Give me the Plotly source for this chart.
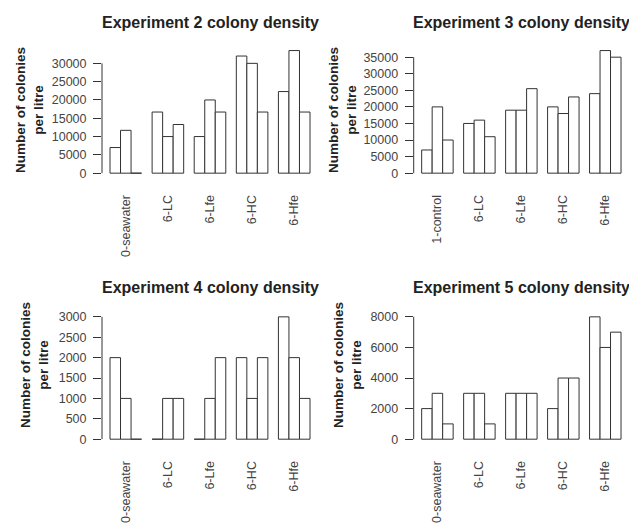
import plotly.graph_objects as go

# Treatment groups on the x axis
groups_seawater = ["0-seawater", "6-LC", "6-Lfe", "6-HC", "6-Hfe"]
groups_control = ["1-control", "6-LC", "6-Lfe", "6-HC", "6-Hfe"]

# Colony density (colonies per litre), one list per replicate
exp2_rep1 = [7000, 16700, 10000, 32000, 22300]
exp2_rep2 = [11700, 10000, 20000, 30000, 33500]
exp2_rep3 = [0, 13300, 16700, 16700, 16700]

exp3_rep1 = [7000, 15000, 19000, 20000, 24000]
exp3_rep2 = [20000, 16000, 19000, 18000, 37000]
exp3_rep3 = [10000, 11000, 25500, 23000, 35000]

exp4_rep1 = [2000, 0, 0, 2000, 3000]
exp4_rep2 = [1000, 1000, 1000, 1000, 2000]
exp4_rep3 = [0, 1000, 2000, 2000, 1000]

exp5_rep1 = [2000, 3000, 3000, 2000, 8000]
exp5_rep2 = [3000, 3000, 3000, 4000, 6000]
exp5_rep3 = [1000, 1000, 3000, 4000, 7000]

panel_titles = ["Experiment 2 colony density", "Experiment 3 colony density",
                "Experiment 4 colony density", "Experiment 5 colony density"]
tick_steps = [5000, 5000, 500, 2000]
tick_tops = [30000, 35000, 3000, 8000]

panels = [
    (groups_seawater, [exp2_rep1, exp2_rep2, exp2_rep3]),
    (groups_control, [exp3_rep1, exp3_rep2, exp3_rep3]),
    (groups_seawater, [exp4_rep1, exp4_rep2, exp4_rep3]),
    (groups_seawater, [exp5_rep1, exp5_rep2, exp5_rep3]),
]

W, H = 629, 523
FONT = "Liberation Sans, Arial, sans-serif"
TEXT = "#222222"
TICK = "#444444"
EDGE = "#333333"

# plot regions in pixels (left, right, top, bottom)
regions = [
    (102.0, 318.0, 44.5, 179.5),
    (413.7, 629.0, 44.5, 179.5),
    (102.0, 318.0, 316.0, 450.7),
    (413.7, 629.0, 316.0, 450.7),
]
# y-axis label centres (x, y) in pixels
ylab_pos = [(30, 110), (343, 110), (35, 370), (348, 370)]
title_y = [20.5, 20.5, 291.5, 291.5]

fig = go.Figure()
annotations = []
shapes = []

for i, ((cats, reps), (x0, x1, y0, y1)) in enumerate(zip(panels, regions)):
    n = i + 1
    xa = "x" if n == 1 else f"x{n}"
    ya = "y" if n == 1 else f"y{n}"
    for rep in reps:
        fig.add_trace(go.Bar(
            x=cats, y=rep, xaxis=xa, yaxis=ya,
            marker=dict(color="white", line=dict(color=EDGE, width=1)),
            showlegend=False, hoverinfo="x+y",
        ))
    ymax = max(max(r) for r in reps)
    xkey = "xaxis" if n == 1 else f"xaxis{n}"
    ykey = "yaxis" if n == 1 else f"yaxis{n}"
    fig.layout[xkey] = dict(
        domain=[x0 / W, x1 / W], anchor=ya, type="category",
        range=[-0.565, 4.565], showgrid=False, zeroline=False, showline=False,
        ticks="outside", ticklen=11, tickcolor="rgba(0,0,0,0)",
        tickangle=-90, tickfont=dict(family=FONT, size=12.5, color=TICK),
        fixedrange=True,
    )
    fig.layout[ykey] = dict(
        domain=[1 - y1 / H, 1 - y0 / H], anchor=xa,
        range=[-0.04 * ymax, 1.04 * ymax],
        tickmode="linear", tick0=0, dtick=tick_steps[i], tickformat="d",
        showgrid=False, zeroline=False, showline=False,
        ticks="outside", ticklen=8, tickcolor=EDGE, tickwidth=1,
        ticklabelstandoff=4,
        tickfont=dict(family=FONT, size=12.5, color=TICK),
        fixedrange=True,
    )
    # axis line spanning only the labelled ticks
    shapes.append(dict(
        type="line", xref=f"{xa} domain", yref=ya,
        x0=0, x1=0, y0=0, y1=tick_tops[i],
        line=dict(color=EDGE, width=1),
    ))
    annotations.append(dict(
        text=f"<b>{panel_titles[i]}</b>", xref="paper", yref="paper",
        x=(x0 + x1) / 2 / W, y=1 - title_y[i] / H,
        xanchor="center", yanchor="middle", showarrow=False,
        font=dict(family=FONT, size=16, color=TEXT),
    ))
    lx, ly = ylab_pos[i]
    annotations.append(dict(
        text="<b>Number of colonies</b><br><b>per litre</b>",
        xref="paper", yref="paper", x=lx / W, y=1 - ly / H,
        xanchor="center", yanchor="middle", textangle=-90, showarrow=False,
        font=dict(family=FONT, size=13.5, color=TEXT),
    ))

fig.update_layout(
    width=W, height=H,
    margin=dict(l=0, r=0, t=0, b=0),
    paper_bgcolor="white", plot_bgcolor="white",
    barmode="group", bargap=0.25, bargroupgap=0,
    annotations=annotations, shapes=shapes,
)

fig.write_html("out.html")
